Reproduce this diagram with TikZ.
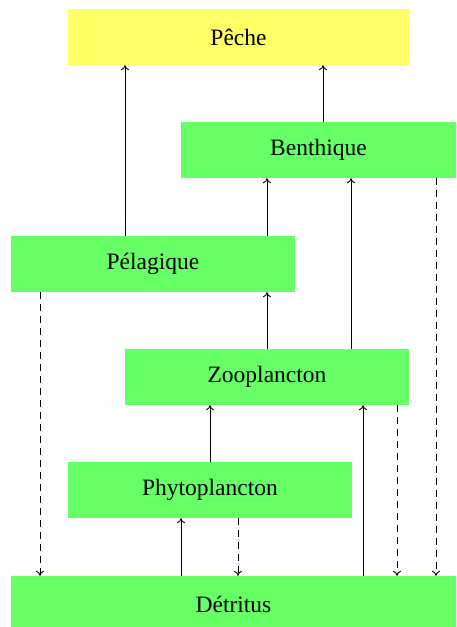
\documentclass[tikz,border=0pt]{standalone}
\usepackage{fontspec}
\setmainfont{Liberation Serif}
\usetikzlibrary{arrows.meta}
\definecolor{boxyellow}{RGB}{255,255,102}
\definecolor{boxgreen}{RGB}{102,255,102}
\begin{document}
\begin{tikzpicture}[x=1pt,y=-1pt,
  box/.style={rectangle,inner sep=0pt,minimum height=56pt,font=\fontsize{23.5}{28}\selectfont},
  flow/.style={-{To[length=5pt,width=8pt]},line width=0.9pt,black},
  back/.style={flow,dash pattern=on 7pt off 5pt}]
\useasboundingbox (0,0) rectangle (456,627);
\node[box,fill=boxyellow,minimum width=341pt] (peche) at (238.5,37) {Pêche};
\node[box,fill=boxgreen,minimum width=275pt] (benth) at (318.5,150) {Benthique};
\node[box,fill=boxgreen,minimum width=284pt] (pela) at (153,264) {Pélagique};
\node[box,fill=boxgreen,minimum width=284pt] (zoo) at (267,377) {Zooplancton};
\node[box,fill=boxgreen,minimum width=284pt] (phyto) at (210,490) {Phytoplancton};
\node[box,fill=boxgreen,minimum width=445pt] (detr) at (233.5,604) {Détritus};
% solid flows
\draw[flow] (pela.north -| 125,0) -- (peche.south -| 125,0);
\draw[flow] (benth.north -| 323,0) -- (peche.south -| 323,0);
\draw[flow] (pela.north -| 267,0) -- (benth.south -| 267,0);
\draw[flow] (zoo.north -| 351,0) -- (benth.south -| 351,0);
\draw[flow] (zoo.north -| 267,0) -- (pela.south -| 267,0);
\draw[flow] (phyto.north -| 210,0) -- (zoo.south -| 210,0);
\draw[flow] (detr.north -| 181,0) -- (phyto.south -| 181,0);
\draw[flow] (detr.north -| 363,0) -- (zoo.south -| 363,0);
% dashed flows
\draw[back] (pela.south -| 40,0) -- (detr.north -| 40,0);
\draw[back] (phyto.south -| 238,0) -- (detr.north -| 238,0);
\draw[back] (zoo.south -| 397,0) -- (detr.north -| 397,0);
\draw[back] (benth.south -| 436,0) -- (detr.north -| 436,0);
\end{tikzpicture}
\end{document}
